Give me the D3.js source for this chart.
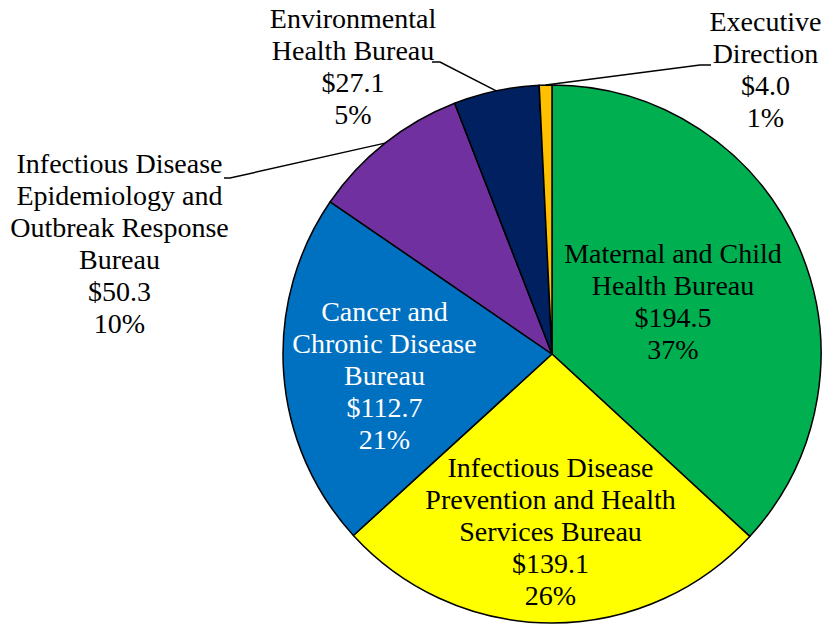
<!DOCTYPE html>
<html>
<head>
<meta charset="utf-8">
<script src="https://cdn.jsdelivr.net/npm/d3@7"></script>
<style>
html,body{margin:0;padding:0;background:#fff;}
svg{display:block;}
</style>
</head>
<body>
<svg id="chart" width="823" height="624"></svg>
<script>
// ---- data ----
const categories = [
  "Maternal and Child\nHealth Bureau",
  "Infectious Disease\nPrevention and Health\nServices Bureau",
  "Cancer and\nChronic Disease\nBureau",
  "Infectious Disease\nEpidemiology and\nOutbreak Response\nBureau",
  "Environmental\nHealth Bureau",
  "Executive\nDirection"
];
const values = [194.5, 139.1, 112.7, 50.3, 27.1, 4.0];

// ---- styling / layout ----
const colors = ["#00B050", "#FFFF00", "#0070C0", "#7030A0", "#002060", "#FFC000"];
const textColors = ["#000", "#000", "#fff", "#000", "#000", "#000"];
// label block centre, offset from pie centre
const labelOffsets = [[121, -52.5], [-1.5, 178], [-167.5, 22], [-432.5, -110.5], [-199, -287.5], [213.5, -284]];
// leader lines for outside labels: [elbow dx,dy], [end dx,dy] (null = inside label)
const leaders = [null, null, null,
  [[-322, -176], [-328, -176]],
  [[-112, -292], [-120, -292]],
  [[148, -289], [159, -289]]];

const W = 823, H = 624;
const cx = 552, cy = 354, R = 269;
const fontSize = 28, lineH = 32;
const fontFamily = '"Liberation Serif"';

const svg = d3.select("#chart");
const g = svg.append("g").attr("transform", `translate(${cx},${cy})`);

const total = d3.sum(values);
const pie = d3.pie().sort(null).value(d => d)(values);
const arc = d3.arc().innerRadius(0).outerRadius(R);

g.selectAll("path.slice").data(pie).join("path")
  .attr("class", "slice")
  .attr("d", arc)
  .attr("fill", (d, i) => colors[i])
  .attr("stroke", "#000")
  .attr("stroke-width", 1.5)
  .attr("stroke-linejoin", "round");

// leader lines
pie.forEach((d, i) => {
  if (!leaders[i]) return;
  const mid = (d.startAngle + d.endAngle) / 2;
  const p0 = [R * Math.sin(mid), -R * Math.cos(mid)];
  const pts = [p0, leaders[i][0], leaders[i][1]];
  g.append("path")
    .attr("d", d3.line()(pts))
    .attr("fill", "none")
    .attr("stroke", "#000")
    .attr("stroke-width", 1.5);
});

// labels
pie.forEach((d, i) => {
  const lines = categories[i].split("\n");
  lines.push("$" + values[i].toFixed(1));
  lines.push(Math.round(values[i] / total * 100) + "%");
  const [ox, oy] = labelOffsets[i];
  const n = lines.length;
  const t = g.append("text")
    .attr("text-anchor", "middle")
    .style("font-family", fontFamily)
    .style("font-size", fontSize + "px")
    .attr("fill", textColors[i]);
  lines.forEach((ln, j) => {
    t.append("tspan")
      .attr("x", ox)
      .attr("y", oy + (j - (n - 1) / 2) * lineH)
      .attr("dy", "0.33em")
      .text(ln);
  });
});
</script>
</body>
</html>
